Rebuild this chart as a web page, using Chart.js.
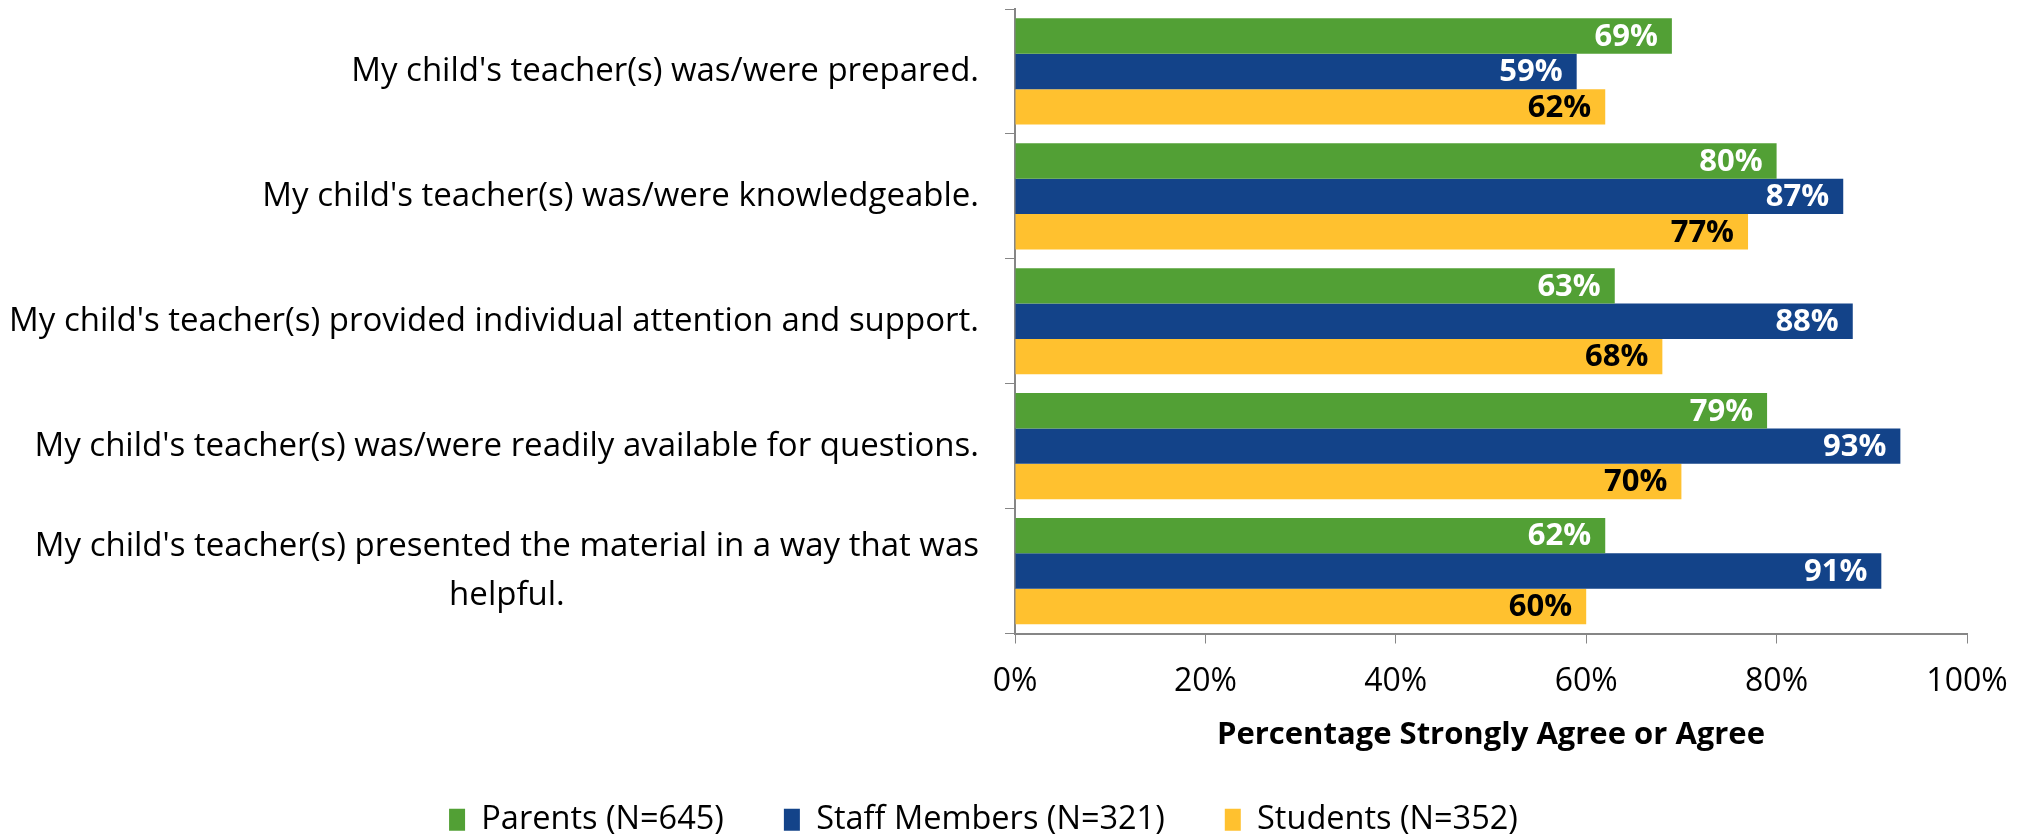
<!DOCTYPE html>
<html>
<head>
<meta charset="utf-8">
<script src="https://cdn.jsdelivr.net/npm/chart.js@4/dist/chart.umd.min.js"></script>
<style>
    html, body { margin: 0; padding: 0; background: #fff; }
    #wrap { width: 2028px; height: 839px; }
</style>
</head>
<body>
<div id="wrap"><canvas id="myChart" width="2028" height="839"></canvas></div>
<script>
// Survey statements (y axis categories)
const categories = [
    "My child's teacher(s) was/were prepared.",
    "My child's teacher(s) was/were knowledgeable.",
    "My child's teacher(s) provided individual attention and support.",
    "My child's teacher(s) was/were readily available for questions.",
    ["My child's teacher(s) presented the material in a way that was", "helpful."]
];

// Percent strongly agree or agree, per group
const parents = [69, 80, 63, 79, 62];
const staff = [59, 87, 88, 93, 91];
const students = [62, 77, 68, 70, 60];

const seriesNames = ["Parents (N=645)", "Staff Members (N=321)", "Students (N=352)"];
const xTicks = [0, 20, 40, 60, 80, 100];
const xTitle = "Percentage Strongly Agree or Agree";

const fontFamily = "'Open Sans', sans-serif";

// Draws the value inside the end of each bar
const valueLabels = {
    id: "valueLabels",
    afterDatasetsDraw(chart) {
        const ctx = chart.ctx;
        ctx.save();
        ctx.font = "bold 31px " + fontFamily;
        ctx.textAlign = "right";
        ctx.textBaseline = "middle";
        chart.data.datasets.forEach((ds, i) => {
            const meta = chart.getDatasetMeta(i);
            ctx.fillStyle = (i == 2) ? "#000000" : "#ffffff";
            meta.data.forEach((bar, j) => {
                ctx.fillText(ds.data[j] + "%", bar.x - 14, bar.y + 1);
            });
        });
        ctx.restore();
    }
};

// Category labels: block is right aligned, lines inside a block are centered (like Excel)
const categoryLabels = {
    id: "categoryLabels",
    afterDraw(chart) {
        const ctx = chart.ctx;
        const yScale = chart.scales.y;
        const right = yScale.right - 36;
        const lineHeight = 49;
        ctx.save();
        ctx.font = "33px " + fontFamily;
        ctx.fillStyle = "#000";
        ctx.textAlign = "center";
        ctx.textBaseline = "middle";
        categories.forEach((label, i) => {
            const lines = Array.isArray(label) ? label : [label];
            const blockWidth = Math.max(...lines.map(l => ctx.measureText(l).width));
            const cx = right - blockWidth / 2;
            const y0 = yScale.getPixelForValue(i) - (lines.length - 1) * lineHeight / 2;
            lines.forEach((line, k) => {
                ctx.fillText(line, cx, y0 + k * lineHeight);
            });
        });
        ctx.restore();
    }
};

window.onload = function() {
    const ctx = document.getElementById("myChart");
    new Chart(ctx, {
        type: "bar",
        data: {
            labels: categories,
            datasets: [
                { label: seriesNames[0], data: parents, backgroundColor: "#52A035" },
                { label: seriesNames[1], data: staff, backgroundColor: "#134389" },
                { label: seriesNames[2], data: students, backgroundColor: "#FFC12F" }
            ]
        },
        options: {
            indexAxis: "y",
            responsive: false,
            animation: false,
            devicePixelRatio: 1,
            categoryPercentage: 0.85,
            barPercentage: 1.0,
            layout: { padding: { top: 9, right: 61, left: 0, bottom: -7 } },
            scales: {
                x: {
                    min: 0,
                    max: 100,
                    afterBuildTicks: (scale) => {
                        scale.ticks = xTicks.map(v => ({ value: v }));
                    },
                    afterFit: (scale) => { scale.height = 110; },
                    ticks: {
                        callback: (v) => v + "%",
                        color: "#000",
                        font: { family: fontFamily, size: 32 },
                        padding: 19,
                        maxRotation: 0
                    },
                    grid: { drawOnChartArea: false, tickLength: 10, color: "#868686" },
                    border: { color: "#868686", width: 2 },
                    title: {
                        display: true,
                        text: xTitle,
                        color: "#000",
                        font: { family: fontFamily, size: 31, weight: "bold" },
                        padding: { top: 0, bottom: -10 }
                    }
                },
                y: {
                    afterFit: (scale) => {
                        scale.width = 1015;
                        scale.paddingTop = 0;
                        scale.paddingBottom = 0;
                    },
                    ticks: { display: false },
                    grid: { drawOnChartArea: false, tickLength: 10, color: "#868686", offset: true },
                    border: { color: "#868686", width: 2 }
                }
            },
            plugins: {
                legend: {
                    position: "bottom",
                    labels: {
                        color: "#000",
                        font: { family: fontFamily, size: 32.5 },
                        boxWidth: 16,
                        boxHeight: 22,
                        padding: 60
                    }
                },
                tooltip: { enabled: false }
            }
        },
        plugins: [valueLabels, categoryLabels]
    });
};
</script>
</body>
</html>
